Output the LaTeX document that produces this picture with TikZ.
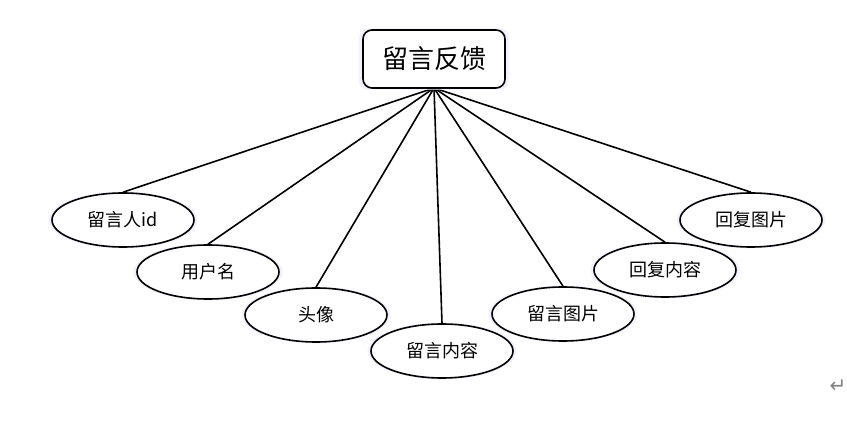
\documentclass[tikz,border=0pt]{standalone}
\usepackage{fontspec}
\newfontfamily\cjk{Noto Sans CJK SC}
\newfontfamily\symfont{DejaVu Sans}
\usetikzlibrary{shapes.geometric,shadows}
\begin{document}
\begin{tikzpicture}[
    x=1pt,y=-1pt,
    root/.style={rounded corners=9pt,draw=black,line width=1.6pt,fill=white,minimum width=142pt,minimum height=58pt,font=\cjk\fontsize{26}{26}\selectfont,
        general shadow={fill=blue!5,shadow scale=1.06}},
    attr/.style={ellipse,draw=black,line width=1.6pt,fill=white,minimum width=142pt,minimum height=54pt,inner sep=0pt,font=\cjk\fontsize{18}{18}\selectfont,
        general shadow={fill=blue!5,shadow scale=1.05}},
    link/.style={line width=1.6pt}
]
\useasboundingbox (0,0) rectangle (847,422);

\node[attr] (A1) at (123,220) {留言人id};
\node[attr] (A2) at (208,272) {用户名};
\node[attr] (A3) at (316,315) {头像};
\node[attr] (A4) at (442,351) {留言内容};
\node[attr] (A5) at (563,314) {留言图片};
\node[attr] (A6) at (665,270) {回复内容};
\node[attr] (A7) at (751,220) {回复图片};

\coordinate (T) at (434,88);
\foreach \i in {1,...,7}
    \draw[link] (T) -- (A\i.north);

\node[root] (R) at (434,59) {留言反馈};

\node[text=gray,font=\symfont\fontsize{20}{20}\selectfont] (P) at (838,386) {↵};

\end{tikzpicture}
\end{document}
